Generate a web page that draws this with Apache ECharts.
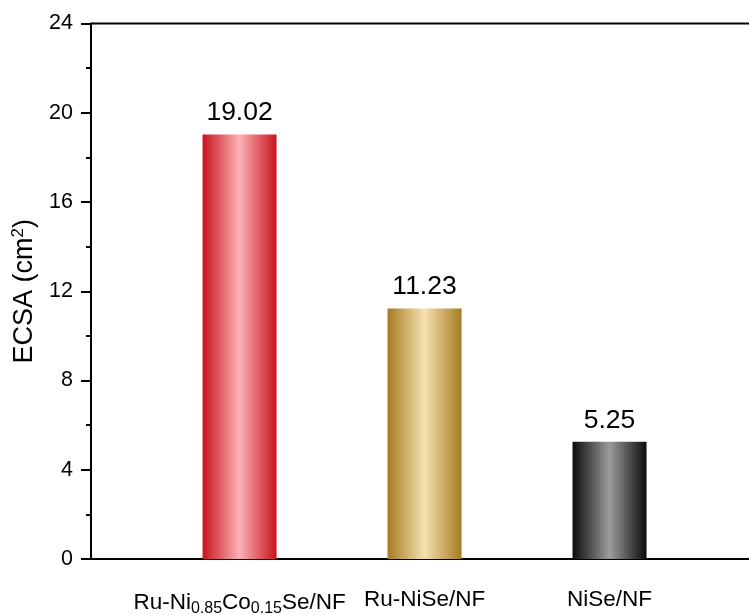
<!DOCTYPE html>
<html>
<head>
<meta charset="utf-8">
<script src="https://cdn.jsdelivr.net/npm/echarts@6/dist/echarts.min.js"></script>
<style>
  html, body { margin: 0; padding: 0; background: #fff; }
  #chart { width: 749px; height: 615px; }
</style>
</head>
<body>
<div id="chart"></div>
<script>
// Sample names (rich-text markup for the subscripts) and their ECSA values
const categories = ['Ru-Ni{sub|0.85}Co{sub|0.15}Se/NF', 'Ru-NiSe/NF', 'NiSe/NF'];
const positions = [1, 2, 3];
const ecsa = [19.02, 11.23, 5.25];
const valueLabels = ['19.02', '11.23', '5.25'];
// Edge / centre colours of each bar's shaded cylinder look
const edgeColors = ['#c8131b', '#a77b21', '#0b0b0b'];
const centerColors = ['#fbb2b7', '#f6e1b1', '#9c9c9c'];

function barGradient(edge, center) {
  return new echarts.graphic.LinearGradient(0, 0, 1, 0, [
    { offset: 0, color: edge },
    { offset: 0.5, color: center },
    { offset: 1, color: edge }
  ]);
}

const chart = echarts.init(document.getElementById('chart'));
const font = 'Arial, "Liberation Sans", sans-serif';

chart.setOption({
  animation: false,
  backgroundColor: '#fff',
  grid: { left: 91, right: 0, top: 23.5, bottom: 56, show: false, containLabel: false, outerBoundsMode: 'none' },
  xAxis: {
    type: 'value',
    min: 0.197,
    max: 3.754,
    splitLine: { show: false },
    axisLine: { show: true, onZero: false, lineStyle: { color: '#000', width: 2 } },
    axisTick: { show: false },
    axisLabel: {
      customValues: positions,
      margin: 29,
      color: '#000',
      fontFamily: font,
      fontSize: 22.5,
      formatter: function (v) {
        const i = positions.indexOf(v);
        return i >= 0 ? categories[i] : '';
      },
      rich: {
        sub: { fontSize: 16, fontFamily: font, color: '#000', verticalAlign: 'bottom', padding: [13, 0, 0, 0] }
      }
    }
  },
  yAxis: {
    type: 'value',
    min: 0,
    max: 24,
    interval: 4,
    name: 'ECSA (cm{sup|2})',
    nameLocation: 'middle',
    nameGap: 49,
    nameTextStyle: {
      color: '#000', fontFamily: font, fontSize: 27,
      rich: { sup: { fontSize: 17, fontFamily: font, color: '#000', verticalAlign: 'top', padding: [0, 0, 12, 0] } }
    },
    splitLine: { show: false },
    axisLine: { show: true, lineStyle: { color: '#000', width: 2 } },
    axisTick: { show: true, length: 10, lineStyle: { color: '#000', width: 2 } },
    minorTick: { show: true, splitNumber: 2, length: 5, lineStyle: { color: '#000', width: 2 } },
    axisLabel: { color: '#000', fontFamily: font, fontSize: 21.5, margin: 18 }
  },
  series: [{
    type: 'bar',
    barWidth: 74,
    data: positions.map((p, i) => ({
      value: [p, ecsa[i]],
      itemStyle: { color: barGradient(edgeColors[i], centerColors[i]) }
    })),
    label: {
      show: true,
      position: 'top',
      distance: 8,
      color: '#000',
      fontFamily: font,
      fontSize: 26.5,
      formatter: p => valueLabels[p.dataIndex]
    }
  }]
});

// Top border of the plot frame, drawn along the y = 24 level
const topY = chart.convertToPixel({ yAxisIndex: 0 }, 24);
chart.setOption({
  graphic: [{
    type: 'line',
    shape: { x1: 91, y1: topY, x2: 749, y2: topY },
    style: { stroke: '#000', lineWidth: 2 },
    silent: true
  }]
});
</script>
</body>
</html>
